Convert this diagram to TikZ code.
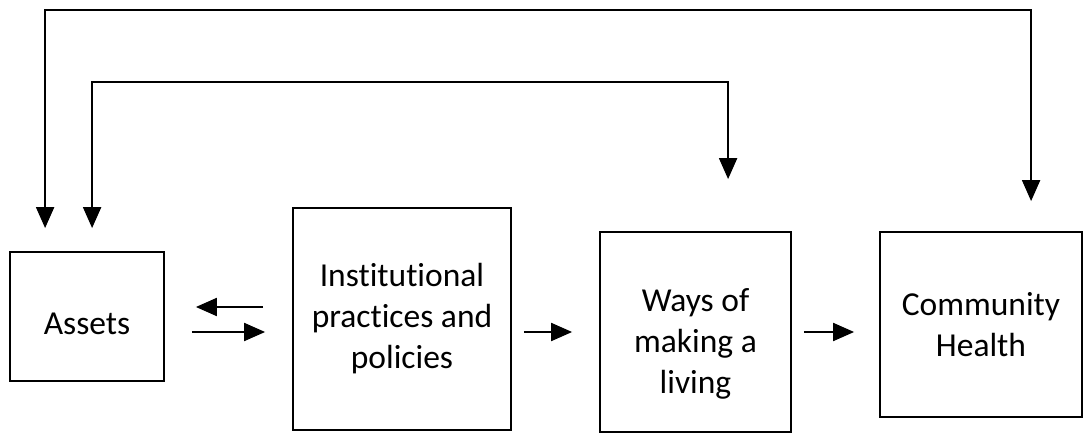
\documentclass[tikz,border=0pt]{standalone}
\usepackage{fontspec}
\setmainfont{Carlito}[Ligatures=NoCommon]
\usetikzlibrary{arrows.meta}

\begin{document}
\begin{tikzpicture}[x=1pt, y=-1pt, >={Triangle[length=21pt, width=18pt]},
    box/.style={draw, line width=1.8pt, align=center, inner sep=0pt,
        font=\fontsize{33.5}{41}\selectfont},
    link/.style={line width=2pt}]
    \useasboundingbox (0,0) rectangle (1090,433);
    \node [box, minimum width=154pt, minimum height=129pt] (assets) at (87,316.5) {\rule{0pt}{36pt}Assets};
    \node [box, minimum width=218pt, minimum height=222pt] (inst) at (402,319) {Institutional\\practices and\\policies};
    \node [box, minimum width=191pt, minimum height=200pt] (ways) at (695.5,332) {\rule{0pt}{46pt}Ways of\\making a\\living};
    \node [box, minimum width=202pt, minimum height=185pt] (health) at (981,324.5) {Community\\Health};
    % arrows between the boxes
    \coordinate (ia) at ([yshift=-13pt]inst.west);
    \coordinate (ib) at ([yshift=12pt]inst.west);
    \draw [link, ->, shorten <=27pt, shorten >=27pt] (ia -| assets.east) -- (ia);
    \draw [link, ->, shorten <=29pt, shorten >=31pt] (ib) -- (ib -| assets.east);
    \draw [link, ->, shorten <=12pt, shorten >=27pt] (ways.west -| inst.east) -- (ways.west);
    \draw [link, ->, shorten <=12pt, shorten >=25pt] (ways.east) -- (ways.east -| health.west);
    % feedback loops over the top
    \coordinate (top) at (0,10);
    \coordinate (mid) at (0,82);
    \coordinate (a1) at ([xshift=36pt, yshift=23pt]assets.north west);
    \coordinate (a2) at ([xshift=83pt, yshift=23pt]assets.north west);
    \coordinate (w1) at ([xshift=129pt, yshift=52pt]ways.north west);
    \coordinate (h1) at ([xshift=152pt, yshift=30pt]health.north west);
    \draw [link, <->] (a1) -- (a1 |- top) -| (h1);
    \draw [link, <->] (a2) -- (a2 |- mid) -| (w1);
\end{tikzpicture}
\end{document}
